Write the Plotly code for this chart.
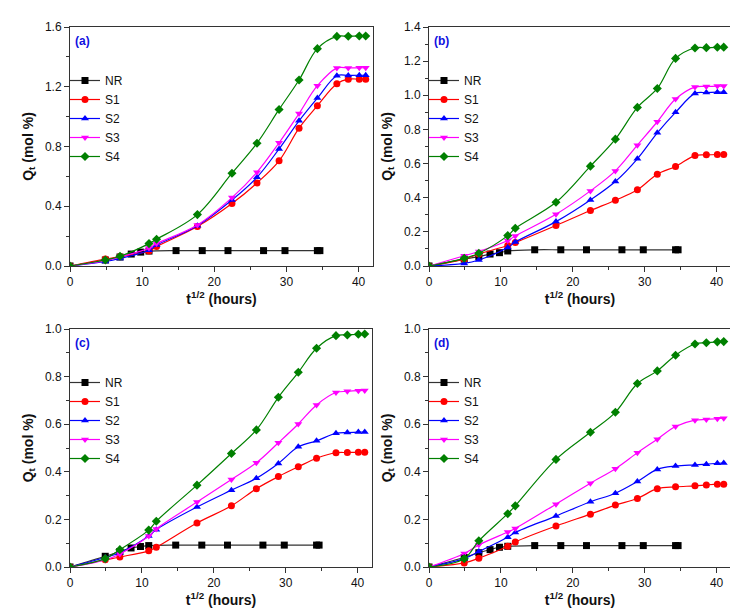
import plotly.graph_objects as go

# sqrt-time grid (t^1/2, hours)
x_nr = [0, 4.9, 6.93, 8.49, 9.8, 10.95, 14.7, 18.33, 21.9, 26.83, 29.8, 34.29, 34.64]
x_s = [0, 4.9, 6.93, 10.95, 12.0, 17.66, 22.45, 25.92, 28.98, 31.75, 34.29, 36.99, 38.57, 40.1, 40.99]

# panel (a)
a_nr = [0, 0.04, 0.06, 0.08, 0.093, 0.1, 0.103, 0.103, 0.103, 0.103, 0.103, 0.103, 0.103]
a_s1 = [0, 0.047, 0.063, 0.10, 0.13, 0.264, 0.418, 0.556, 0.704, 0.923, 1.073, 1.22, 1.251, 1.251, 1.251]
a_s2 = [0, 0.03, 0.05, 0.105, 0.14, 0.27, 0.442, 0.594, 0.784, 0.972, 1.124, 1.274, 1.276, 1.277, 1.277]
a_s3 = [0, 0.035, 0.06, 0.12, 0.15, 0.275, 0.458, 0.628, 0.825, 1.021, 1.207, 1.325, 1.326, 1.327, 1.327]
a_s4 = [0, 0.04, 0.065, 0.15, 0.179, 0.344, 0.621, 0.822, 1.048, 1.245, 1.455, 1.537, 1.538, 1.54, 1.54]

# panel (b)
b_nr = [0, 0.04, 0.055, 0.07, 0.078, 0.088, 0.095, 0.095, 0.095, 0.095, 0.095, 0.095, 0.095]
b_s1 = [0, 0.04, 0.07, 0.12, 0.137, 0.237, 0.325, 0.385, 0.446, 0.538, 0.583, 0.647, 0.651, 0.653, 0.653]
b_s2 = [0, 0.015, 0.035, 0.108, 0.14, 0.26, 0.387, 0.495, 0.628, 0.78, 0.9, 1.011, 1.016, 1.018, 1.018]
b_s3 = [0, 0.06, 0.085, 0.149, 0.176, 0.303, 0.44, 0.557, 0.708, 0.845, 0.978, 1.048, 1.052, 1.054, 1.054]
b_s4 = [0, 0.045, 0.075, 0.178, 0.221, 0.373, 0.585, 0.743, 0.929, 1.04, 1.216, 1.277, 1.279, 1.281, 1.282]

# panel (c)
c_nr = [0, 0.045, 0.065, 0.08, 0.086, 0.09, 0.092, 0.092, 0.092, 0.092, 0.092, 0.092, 0.092]
c_s1 = [0, 0.03, 0.042, 0.068, 0.083, 0.185, 0.257, 0.329, 0.38, 0.421, 0.457, 0.48, 0.481, 0.482, 0.482]
c_s2 = [0, 0.04, 0.06, 0.13, 0.157, 0.252, 0.323, 0.373, 0.435, 0.505, 0.53, 0.562, 0.565, 0.567, 0.567]
c_s3 = [0, 0.03, 0.055, 0.13, 0.16, 0.273, 0.368, 0.438, 0.522, 0.601, 0.681, 0.733, 0.738, 0.741, 0.742]
c_s4 = [0, 0.035, 0.073, 0.155, 0.192, 0.344, 0.477, 0.576, 0.713, 0.818, 0.919, 0.972, 0.975, 0.978, 0.979]

# panel (d)
d_nr = [0, 0.04, 0.06, 0.073, 0.083, 0.087, 0.09, 0.09, 0.09, 0.09, 0.09, 0.09, 0.09]
d_s1 = [0, 0.017, 0.037, 0.087, 0.105, 0.172, 0.222, 0.26, 0.288, 0.329, 0.337, 0.341, 0.345, 0.348, 0.348]
d_s2 = [0, 0.035, 0.065, 0.125, 0.145, 0.214, 0.274, 0.31, 0.359, 0.41, 0.424, 0.429, 0.432, 0.436, 0.437]
d_s3 = [0, 0.057, 0.093, 0.147, 0.162, 0.264, 0.352, 0.413, 0.48, 0.537, 0.59, 0.617, 0.62, 0.623, 0.625]
d_s4 = [0, 0.035, 0.11, 0.224, 0.257, 0.452, 0.566, 0.65, 0.771, 0.824, 0.89, 0.937, 0.942, 0.946, 0.947]

names = ["NR", "S1", "S2", "S3", "S4"]
colors = ["#333333", "#ff0000", "#0000ff", "#ff00ff", "#008000"]
mcolors = ["#000000", "#ff0000", "#0000ff", "#ff00ff", "#008000"]
symbols = ["square", "circle", "triangle-up", "triangle-down", "diamond"]

panels = [
    ("(a)", [a_nr, a_s1, a_s2, a_s3, a_s4], 1.6, 0.4),
    ("(b)", [b_nr, b_s1, b_s2, b_s3, b_s4], 1.4, 0.2),
    ("(c)", [c_nr, c_s1, c_s2, c_s3, c_s4], 1.0, 0.2),
    ("(d)", [d_nr, d_s1, d_s2, d_s3, d_s4], 1.0, 0.2),
]

W, H = 738, 614
# plot areas in pixels (left, right, top, bottom)
boxes = [(62, 365, 19, 258), (421, 723, 19, 258), (62, 364, 321, 559), (421, 723, 321, 559)]

font = "Arial, Liberation Sans, sans-serif"
fig = go.Figure()
layout = dict(width=W, height=H, margin=dict(l=0, r=0, t=0, b=0),
              plot_bgcolor="white", paper_bgcolor="white",
              font=dict(family=font, size=12, color="#111111"),
              annotations=[])

for i, (label, series, ymax, dtick) in enumerate(panels):
    n = i + 1
    xa = "x" if n == 1 else f"x{n}"
    ya = "y" if n == 1 else f"y{n}"
    lg = "legend" if n == 1 else f"legend{n}"
    for k in range(5):
        xs = x_nr if k == 0 else x_s
        fig.add_trace(go.Scatter(
            x=xs, y=series[k], name=names[k], xaxis=xa, yaxis=ya, legend=lg,
            mode="lines+markers", line=dict(color=colors[k], width=1.2, shape="spline", smoothing=1.0),
            marker=dict(symbol=symbols[k], size=7, color=mcolors[k]),
        ))
    l, r, t, b = boxes[i]
    axcommon = dict(showline=True, linecolor="#333333", linewidth=1, mirror=True,
                    ticks="outside", ticklen=5, tickcolor="#333333", showgrid=False,
                    zeroline=False, automargin=False,
                    tickfont=dict(family=font, size=12, color="#111111"))
    layout["xaxis" if n == 1 else f"xaxis{n}"] = dict(
        axcommon, domain=[l / W, r / W], anchor=ya, range=[0, 42], dtick=10,
        minor=dict(dtick=5, ticks="outside", ticklen=3, tickcolor="#333333"),
        title=dict(text="<b>t<sup>1/2</sup> (hours)</b>", font=dict(size=14), standoff=3))
    layout["yaxis" if n == 1 else f"yaxis{n}"] = dict(
        axcommon, domain=[1 - b / H, 1 - t / H], anchor=xa, range=[0, ymax], dtick=dtick,
        tickformat=".1f",
        minor=dict(dtick=dtick / 2, ticks="outside", ticklen=3, tickcolor="#333333"),
        title=dict(text="<b>Q<sub>t</sub> (mol %)</b>", font=dict(size=14), standoff=8))
    layout[lg] = dict(x=(l - 5) / W, y=1 - (t + 39) / H, xanchor="left", yanchor="top",
                      bgcolor="rgba(0,0,0,0)", font=dict(family=font, size=12, color="#111111"),
                      tracegroupgap=0, itemwidth=30)
    layout["annotations"].append(dict(
        text=f"<b>{label}</b>", x=(l + 3) / W, y=1 - (t + 5) / H, xref="paper", yref="paper",
        xanchor="left", yanchor="top", showarrow=False,
        font=dict(family=font, size=12, color="#1010e0")))

fig.update_layout(**layout)
fig.write_html("out.html")
